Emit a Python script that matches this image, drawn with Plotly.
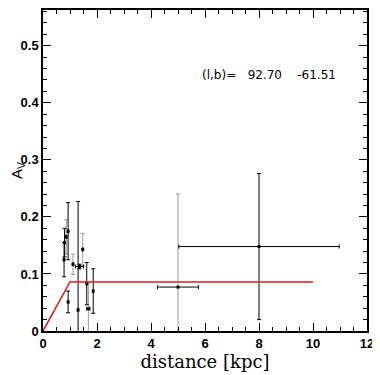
import plotly.graph_objects as go

# Observations: distance [kpc], A_V, errors
dist = [0.78, 0.80, 0.86, 0.93, 0.93, 1.11, 1.30, 1.35, 1.47, 1.62, 1.68, 1.86, 5.0, 8.0]
av = [0.125, 0.155, 0.165, 0.175, 0.051, 0.117, 0.037, 0.113, 0.143, 0.083, 0.039, 0.070, 0.077, 0.148]
av_err = [0.030, 0.025, 0.030, 0.050, 0.019, 0.018, 0.190, 0.004, 0.028, 0.037, 0.045, 0.039, 0.163, 0.128]
dist_err = [0.0, 0.0, 0.0, 0.0, 0.0, 0.0, 0.0, 0.15, 0.0, 0.0, 0.06, 0.0, 0.76, 2.97]
vcolor = ["black", "black", "grey", "black", "black", "grey", "black", "black", "grey", "black", "grey", "black", "grey", "black"]

# Model extinction curve
model_dist = [0.0, 1.0, 10.0]
model_av = [0.0, 0.086, 0.086]

yticks = [0, 0.1, 0.2, 0.3, 0.4, 0.5]
yticktext = ["0", "0.1", "0.2", "0.3", "0.4", "0.5"]
xticks = [0, 2, 4, 6, 8, 10, 12]

fig = go.Figure()

colmap = {"black": "black", "grey": "#9a9a9a"}
for c in ["grey", "black"]:
    idx = [i for i, v in enumerate(vcolor) if v == c]
    fig.add_trace(go.Scatter(
        x=[dist[i] for i in idx], y=[av[i] for i in idx],
        mode="markers", marker=dict(size=1, color=colmap[c]),
        error_y=dict(type="data", array=[av_err[i] for i in idx], color=colmap[c],
                     thickness=1, width=2),
        showlegend=False, hoverinfo="skip"))

fig.add_trace(go.Scatter(
    x=dist, y=av, mode="markers",
    marker=dict(symbol="square", size=3, color="black"),
    error_x=dict(type="data", array=dist_err, color="black", thickness=1, width=2),
    showlegend=False))

fig.add_trace(go.Scatter(
    x=model_dist, y=model_av, mode="lines",
    line=dict(color="#d42020", width=1.6), showlegend=False))

axis_common = dict(
    showgrid=False, zeroline=False, showline=True, linecolor="black", linewidth=1.5,
    mirror="allticks", ticks="inside", ticklen=8, tickwidth=1.2, tickcolor="black",
    tickfont=dict(family="Liberation Sans", size=13, color="black", weight="bold"),
)

fig.update_xaxes(
    range=[0, 12], tickvals=xticks, ticktext=[str(v) for v in xticks],
    minor=dict(dtick=0.5, ticks="inside", ticklen=4, tickcolor="black", tickwidth=1),
    title=dict(text="distance [kpc]", standoff=3,
               font=dict(family="DejaVu Serif", size=18, color="black")),
    **axis_common)

fig.update_yaxes(
    range=[0, 0.5626], tickvals=yticks, ticktext=yticktext,
    minor=dict(dtick=0.02, ticks="inside", ticklen=4, tickcolor="black", tickwidth=1),
    title=dict(text="A<sub>V</sub>", standoff=0,
               font=dict(family="Liberation Sans", size=15, color="black")),
    **axis_common)

fig.add_annotation(
    x=8.37, y=0.448, xref="x", yref="y", showarrow=False,
    text="(l,b)=   92.70    -61.51",
    font=dict(family="DejaVu Sans", size=12, color="black"))

# page body adds an 8px offset, so the figure is sized to fill the rest of the window
fig.update_layout(
    width=372, height=367,
    margin=dict(l=35, r=13, t=0, b=44),
    paper_bgcolor="white", plot_bgcolor="white",
)

fig.write_html("out.html")
